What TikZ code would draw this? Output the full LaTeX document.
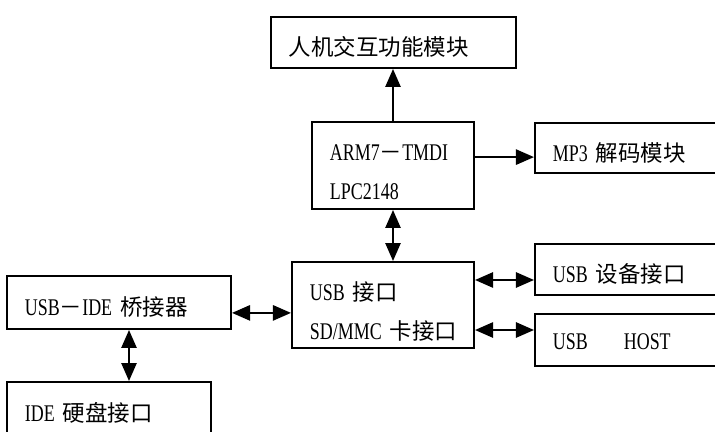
\documentclass[tikz,border=0pt]{standalone}
\usepackage{fontspec}
\setmainfont{Liberation Serif}[FakeStretch=0.75]
\newfontfamily\cjk[Scale=0.94]{Noto Sans CJK SC}
\usetikzlibrary{positioning, arrows.meta, calc}

\begin{document}
\begin{tikzpicture}[>={Triangle[length=0.45cm, width=0.38cm]}, font=\fontsize{17}{28}\selectfont, line width=1.4pt, x=0.025cm, y=-0.025cm]
\tikzset{blk/.style={draw, rectangle, align=left, inner xsep=0.45cm, inner ysep=0pt, text height=19pt, text depth=0pt}, blk2/.style={draw, rectangle, align=left, inner xsep=0.45cm, inner ysep=0pt, text height=23pt, text depth=30pt}}
\clip (0,0) rectangle (715,432);
\node[blk, text width=5.225cm, minimum height=1.275cm] (hmi) at (393.5,42.5) {{\cjk 人机交互功能模块}};
\node[blk2, text width=3.15cm, minimum height=2.175cm] (arm) at (393,165.5) {ARM7{\cjk －}TMDI\\LPC2148};
\node[blk, text width=4.225cm, minimum height=1.25cm] (mp3) at (637.5,148) {MP3~{\cjk 解码模块}};
\node[blk2, text width=3.65cm, minimum height=2.15cm] (usb) at (383,305) {USB~{\cjk 接口}\\SD/MMC~{\cjk 卡接口}};
\node[blk, text width=4.225cm, minimum height=1.275cm] (dev) at (637.5,269.5) {USB~{\cjk 设备接口}};
\node[blk, text width=4.225cm, minimum height=1.3cm, text height=14pt] (host) at (637.5,340) {USB\hspace{0.9cm}HOST};
\node[blk, text width=4.7cm, minimum height=1.325cm] (bridge) at (119,302.5) {USB{\cjk －}IDE~{\cjk 桥接器}};
\node[blk, text width=4.2cm, minimum height=1.5cm, text height=14pt] (ide) at (109,412) {IDE~{\cjk 硬盘接口}};
\draw[->] (arm.north) -- (arm.north |- hmi.south);
\draw[->] ([yshift=0.21cm]arm.east) -- ([yshift=0.21cm]arm.east -| mp3.west);
\draw[<->] (arm.south) -- (arm.south |- usb.north);
\draw[<->] ([yshift=0.625cm]usb.east) -- ([yshift=0.625cm]usb.east -| dev.west);
\draw[<->] ([yshift=-0.625cm]usb.east) -- ([yshift=-0.625cm]usb.east -| host.west);
\draw[<->] ([yshift=-0.26cm]bridge.east) -- ([yshift=-0.26cm]bridge.east -| usb.west);
\draw[<->] ([xshift=0.25cm]bridge.south) -- ([xshift=0.25cm]bridge.south |- ide.north);
\end{tikzpicture}
\end{document}
